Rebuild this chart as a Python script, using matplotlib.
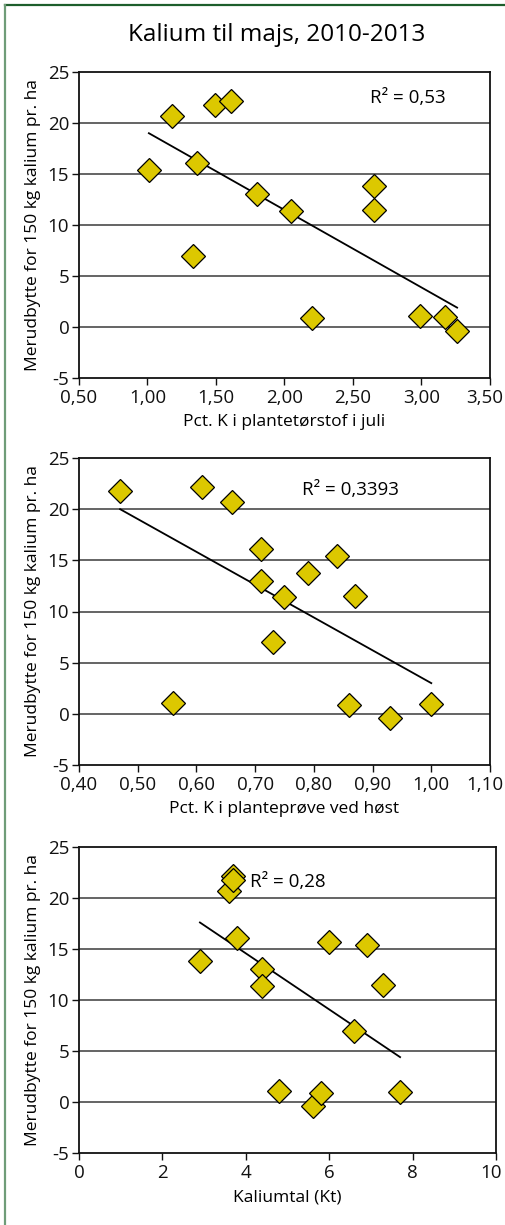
import matplotlib
matplotlib.use("Agg")
import matplotlib.pyplot as plt
from matplotlib.lines import Line2D
from matplotlib.ticker import FuncFormatter
from matplotlib.transforms import ScaledTranslation

plt.rcParams["font.family"] = ["Open Sans", "DejaVu Sans"]

# panel 1: Pct. K i plantetoerstof i juli
juli_x = [1.01, 1.18, 1.33, 1.36, 1.49, 1.61, 1.80, 2.05, 2.20, 2.65, 2.65, 2.99, 3.17, 3.26]
juli_y = [15.4, 20.7, 7.0, 16.1, 21.8, 22.2, 13.0, 11.4, 0.9, 13.8, 11.5, 1.1, 1.0, -0.4]
juli_trend_x = [1.01, 3.26]
juli_trend_y = [19.0, 1.9]

# panel 2: Pct. K i planteproeve ved hoest
hoest_x = [0.47, 0.56, 0.61, 0.66, 0.71, 0.71, 0.73, 0.75, 0.79, 0.84, 0.86, 0.87, 0.93, 1.00]
hoest_y = [21.8, 1.1, 22.2, 20.7, 16.1, 13.0, 7.0, 11.4, 13.8, 15.4, 0.9, 11.5, -0.4, 1.0]
hoest_trend_x = [0.47, 1.00]
hoest_trend_y = [20.0, 3.0]

# panel 3: Kaliumtal
kt_x = [2.9, 3.6, 3.7, 3.7, 3.8, 4.4, 4.4, 4.8, 5.6, 5.8, 6.0, 6.6, 6.9, 7.3, 7.7]
kt_y = [13.8, 20.7, 22.2, 21.8, 16.1, 13.0, 11.4, 1.1, -0.4, 0.9, 15.7, 7.0, 15.4, 11.5, 1.0]
kt_trend_x = [2.9, 7.7]
kt_trend_y = [17.6, 4.4]

y_ticks = [-5, 0, 5, 10, 15, 20, 25]

panels = [
    dict(x=juli_x, y=juli_y, tx=juli_trend_x, ty=juli_trend_y,
         xlim=(0.5, 3.5), xticks=[0.5, 1.0, 1.5, 2.0, 2.5, 3.0, 3.5], fmt="{:.2f}",
         xlabel="Pct. K i plantetørstof i juli", r2="R² = 0,53", r2pos=(0.80, 0.915),
         pos=[79 / 506, 1 - 378 / 1225, 411 / 506, 306 / 1225]),
    dict(x=hoest_x, y=hoest_y, tx=hoest_trend_x, ty=hoest_trend_y,
         xlim=(0.4, 1.1), xticks=[0.4, 0.5, 0.6, 0.7, 0.8, 0.9, 1.0, 1.1], fmt="{:.2f}",
         xlabel="Pct. K i planteprøve ved høst", r2="R² = 0,3393", r2pos=(0.66, 0.896),
         pos=[79 / 506, 1 - 765 / 1225, 411 / 506, 307 / 1225]),
    dict(x=kt_x, y=kt_y, tx=kt_trend_x, ty=kt_trend_y,
         xlim=(0, 10), xticks=[0, 2, 4, 6, 8, 10], fmt="{:.0f}",
         xlabel="Kaliumtal (Kt)", r2="R² = 0,28", r2pos=(0.50, 0.886),
         pos=[79 / 506, 1 - 1153 / 1225, 417 / 506, 306 / 1225]),
]

fig = plt.figure(figsize=(5.06, 12.25), dpi=100)

for p in panels:
    ax = fig.add_axes(p["pos"])
    ax.set_xlim(*p["xlim"])
    ax.set_ylim(-5, 25)
    ax.set_xticks(p["xticks"])
    ax.set_yticks(y_ticks)
    fmt = p["fmt"]
    ax.xaxis.set_major_formatter(FuncFormatter(lambda v, _, f=fmt: f.format(v).replace(".", ",")))
    ax.yaxis.set_major_formatter(FuncFormatter(lambda v, _: "{:.0f}".format(v)))
    for yv in y_ticks[1:-1]:
        ax.axhline(yv, color="#3a3a3a", lw=1.1, zorder=1)
    for side in ["left", "bottom", "top", "right"]:
        ax.spines[side].set_color("#111111")
        ax.spines[side].set_linewidth(1.3)
    ax.tick_params(direction="out", length=5, width=1, labelsize=13.5, colors="#111111")
    ax.tick_params(axis="y", pad=2)
    ax.tick_params(axis="x", pad=3)
    # keep the last x label inside the frame, like the original
    last = ax.xaxis.get_major_ticks()[-1].label1
    last.set_transform(last.get_transform() + ScaledTranslation(-5 / 100, 0, fig.dpi_scale_trans))
    ax.plot(p["tx"], p["ty"], color="black", lw=1.3, zorder=2)
    ax.plot(p["x"], p["y"], linestyle="none", marker="D", markersize=12.5,
            markerfacecolor="#DCC800", markeredgecolor="black", markeredgewidth=0.9, zorder=3)
    ax.text(p["r2pos"][0], p["r2pos"][1], p["r2"], transform=ax.transAxes,
            ha="center", va="center", fontsize=13.5)
    ax.set_xlabel(p["xlabel"], fontsize=12.5, labelpad=5)
    ax.set_ylabel("Merudbytte for 150 kg kalium pr. ha", fontsize=12.5, labelpad=5)

fig.text(277 / 506, 1 - 35 / 1225, "Kalium til majs, 2010-2013", ha="center", va="center", fontsize=17.5)

# green frame (top and left edge)
fig.add_artist(Line2D([5 / 506, 1], [1 - 4.5 / 1225, 1 - 4.5 / 1225], transform=fig.transFigure,
                      color="#1d5e2c", lw=1.6))
fig.add_artist(Line2D([5 / 506, 5 / 506], [0, 1 - 4.5 / 1225], transform=fig.transFigure,
                      color="#6f9c78", lw=1.6))

fig.savefig("out.png", dpi=100)
